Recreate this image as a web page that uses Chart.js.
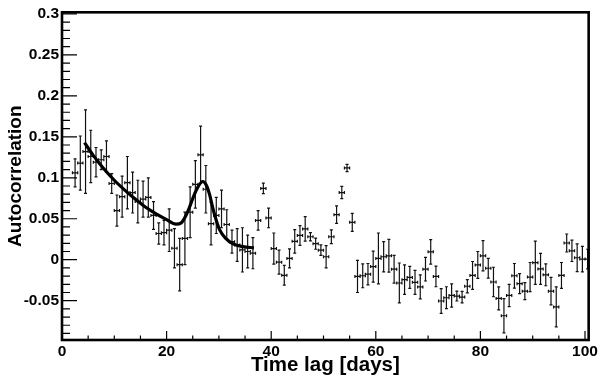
<!DOCTYPE html>
<html>
<head>
<meta charset="utf-8">
<title>Autocorrelation</title>
<script src="https://cdn.jsdelivr.net/npm/chart.js@4.4.1/dist/chart.umd.min.js"></script>
<style>
  html, body { margin: 0; padding: 0; background: #fff; }
  #wrap { width: 600px; height: 375px; }
</style>
</head>
<body>
<div id="wrap"><canvas id="acf" width="600" height="375"></canvas></div>
<script>
// Time lag bin centres [days]
const lagDays = [
  2.5, 3.5, 4.5, 5.5, 6.5, 7.5, 8.5, 9.5, 10.5, 11.5, 12.5, 13.5, 14.5, 15.5, 16.5, 17.5, 18.5, 19.5, 20.5, 21.5,
  22.5, 23.5, 24.5, 25.5, 26.5, 27.5, 28.5, 29.5, 30.5, 31.5, 32.5, 33.5, 34.5, 35.5, 36.5, 37.5, 38.5, 39.5, 40.5, 41.5,
  42.5, 43.5, 44.5, 45.5, 46.5, 47.5, 48.5, 49.5, 50.5, 51.5, 52.5, 53.5, 54.5, 55.5, 56.5, 57.5, 58.5, 59.5, 60.5, 61.5,
  62.5, 63.5, 64.5, 65.5, 66.5, 67.5, 68.5, 69.5, 70.5, 71.5, 72.5, 73.5, 74.5, 75.5, 76.5, 77.5, 78.5, 79.5, 80.5, 81.5,
  82.5, 83.5, 84.5, 85.5, 86.5, 87.5, 88.5, 89.5, 90.5, 91.5, 92.5, 93.5, 94.5, 95.5, 96.5, 97.5, 98.5, 99.5, 100.5
];
// Autocorrelation value per bin
const autocorr = [
  0.106, 0.118, 0.132, 0.126, 0.119, 0.122, 0.126, 0.093, 0.060, 0.077, 0.094, 0.082, 0.071, 0.074, 0.076, 0.054, 0.032, 0.033, 0.036, 0.014,
  -0.006, 0.026, 0.058, 0.092, 0.128, 0.086, 0.044, 0.054, 0.062, 0.043, 0.022, 0.018, 0.012, 0.010, 0.008, 0.048, 0.087, 0.051, 0.0136, -0.003,
  -0.019, 0.0016, 0.0224, 0.0296, 0.0376, 0.028, 0.0196, 0.0116, 0.0036, 0.028, 0.055, 0.082, 0.112, 0.0456, -0.0204, -0.0196, -0.0176, -0.0084, 0.0016, 0.0036,
  0.0048, -0.0116, -0.0284, -0.0244, -0.0216, -0.0276, -0.0332, -0.0116, 0.0096, -0.0204, -0.0504, -0.0464, -0.0436, -0.0444, -0.0456, -0.0324, -0.0192, -0.0064, 0.0048, -0.0104,
  -0.0272, -0.0472, -0.0684, -0.0436, -0.0196, -0.0292, -0.0384, -0.0212, -0.0036, -0.0112, -0.0184, -0.0384, -0.0576, -0.0192, 0.0204, 0.0108, 0.0024, 0.0008, 0.0008
];
// Statistical error per bin
const autocorrErr = [
  0.017, 0.033, 0.051, 0.032, 0.018, 0.012, 0.019, 0.012, 0.019, 0.025, 0.032, 0.025, 0.026, 0.022, 0.024, 0.017, 0.013, 0.015, 0.026, 0.024,
  0.032, 0.032, 0.031, 0.029, 0.035, 0.029, 0.026, 0.022, 0.023, 0.018, 0.014, 0.020, 0.027, 0.020, 0.019, 0.012, 0.0064, 0.012, 0.019, 0.0146,
  0.012, 0.0116, 0.0144, 0.012, 0.015, 0.005, 0.0068, 0.0064, 0.0136, 0.0084, 0.0106, 0.0074, 0.0044, 0.011, 0.0196, 0.0146, 0.013, 0.019, 0.031, 0.0184,
  0.020, 0.017, 0.0244, 0.018, 0.0134, 0.0146, 0.0146, 0.0144, 0.015, 0.0126, 0.015, 0.0134, 0.0142, 0.006, 0.007, 0.008, 0.017, 0.0164, 0.0184, 0.012,
  0.018, 0.014, 0.021, 0.0136, 0.015, 0.0122, 0.0104, 0.0178, 0.0264, 0.019, 0.0134, 0.0168, 0.0244, 0.0158, 0.011, 0.013, 0.017, 0.0156, 0.012
];
// Fit curve (decay + peak), sampled off the figure
const fitLag   = [4.3, 6, 8, 10, 12, 14, 16, 18, 20, 21.8, 22.8, 23.7, 24.5, 25.2, 26, 26.9, 27.6, 28.2, 28.8, 29.4, 30.1, 31.3, 32.8, 34.6, 36.7];
const fitValue = [0.143, 0.127, 0.111, 0.097, 0.085, 0.074, 0.064, 0.056, 0.049, 0.0435, 0.045, 0.054, 0.066, 0.078, 0.089, 0.0955, 0.091, 0.080, 0.064, 0.050, 0.037, 0.026, 0.019, 0.016, 0.0145];

const xTicks = [0, 20, 40, 60, 80, 100];
const yTicks = [-0.05, 0, 0.05, 0.1, 0.15, 0.2, 0.25, 0.3];

const FONT = "'Liberation Sans', Arial, Helvetica, sans-serif";

// error bars (x: half bin width, y: statistical error), drawn through the scales
const errorBars = {
  id: 'errorBars',
  beforeDatasetsDraw(chart) {
    const { ctx, scales: { x, y }, chartArea } = chart;
    ctx.save();
    ctx.beginPath();
    ctx.rect(chartArea.left, chartArea.top, chartArea.width, chartArea.height);
    ctx.clip();
    ctx.strokeStyle = '#111';
    ctx.lineWidth = 1.2;
    const cap = 1.5;
    ctx.beginPath();
    for (let i = 0; i < lagDays.length; i++) {
      const px = x.getPixelForValue(lagDays[i]);
      const py = y.getPixelForValue(autocorr[i]);
      const top = y.getPixelForValue(autocorr[i] + autocorrErr[i]);
      const bot = y.getPixelForValue(autocorr[i] - autocorrErr[i]);
      const lft = x.getPixelForValue(lagDays[i] - 0.5);
      const rgt = x.getPixelForValue(lagDays[i] + 0.5);
      ctx.moveTo(px, top); ctx.lineTo(px, bot);
      ctx.moveTo(px - cap, top); ctx.lineTo(px + cap, top);
      ctx.moveTo(px - cap, bot); ctx.lineTo(px + cap, bot);
      ctx.moveTo(lft, py); ctx.lineTo(rgt, py);
      ctx.moveTo(lft, py - cap); ctx.lineTo(lft, py + cap);
      ctx.moveTo(rgt, py - cap); ctx.lineTo(rgt, py + cap);
    }
    ctx.stroke();
    ctx.restore();
  }
};

// ROOT-like frame with inward tick marks
const frame = {
  id: 'frame',
  afterDraw(chart) {
    const { ctx, scales: { x, y }, chartArea: a } = chart;
    ctx.save();
    ctx.strokeStyle = '#000';
    ctx.lineWidth = 1.2;
    ctx.beginPath();
    for (let i = -9; i <= 30; i++) {
      const py = y.getPixelForValue(i / 100);
      const len = i % 5 === 0 ? 15 : 8;
      ctx.moveTo(a.left, py); ctx.lineTo(a.left + len, py);
    }
    for (let v = 0; v <= 100; v += 5) {
      const px = x.getPixelForValue(v);
      const len = v % 20 === 0 ? 9 : 4.5;
      ctx.moveTo(px, a.bottom); ctx.lineTo(px, a.bottom - len);
    }
    ctx.stroke();
    ctx.lineWidth = 2.6;
    ctx.strokeRect(a.left, a.top, a.right - a.left, a.bottom - a.top);
    ctx.restore();
  }
};

new Chart(document.getElementById('acf'), {
  type: 'scatter',
  data: {
    datasets: [
      {
        label: 'Autocorrelation',
        data: lagDays.map((d, i) => ({ x: d, y: autocorr[i] })),
        pointRadius: 0,
        showLine: false
      },
      {
        type: 'line',
        label: 'Fit',
        data: fitLag.map((d, i) => ({ x: d, y: fitValue[i] })),
        borderColor: '#000',
        borderWidth: 3.2,
        pointRadius: 0,
        cubicInterpolationMode: 'monotone',
        fill: false
      }
    ]
  },
  options: {
    responsive: false,
    animation: false,
    devicePixelRatio: 1,
    layout: { padding: { top: 7, right: 10, left: 0, bottom: 0 } },
    plugins: { legend: { display: false }, tooltip: { enabled: false } },
    scales: {
      x: {
        type: 'linear',
        min: 0,
        max: 100.7,
        afterBuildTicks: (s) => { s.ticks = xTicks.map(v => ({ value: v })); },
        afterFit: (s) => { s.height = 35; },
        grid: { display: false, drawTicks: false, tickLength: 0 },
        border: { display: false },
        ticks: {
          color: '#000', padding: 2, maxRotation: 0, autoSkip: false,
          font: { family: FONT, size: 15.5, weight: 'bold' }
        },
        title: {
          display: true, text: 'Time lag [days]', color: '#000',
          font: { family: FONT, size: 20.5, weight: 'bold', lineHeight: 1 },
          padding: { top: 0, bottom: -1 }
        }
      },
      y: {
        type: 'linear',
        min: -0.098,
        max: 0.302,
        afterBuildTicks: (s) => { s.ticks = yTicks.map(v => ({ value: v })); },
        afterFit: (s) => { s.width = 62; },
        grid: { display: false, drawTicks: false, tickLength: 0 },
        border: { display: false },
        ticks: {
          color: '#000', padding: 3, autoSkip: false,
          font: { family: FONT, size: 15.5, weight: 'bold' },
          callback: (v) => String(+Number(v).toFixed(2))
        },
        title: {
          display: true, text: 'Autocorrelation', color: '#000',
          font: { family: FONT, size: 19, weight: 'bold' },
          padding: { top: 4, bottom: 0 }
        }
      }
    }
  },
  plugins: [errorBars, frame]
});
</script>
</body>
</html>
